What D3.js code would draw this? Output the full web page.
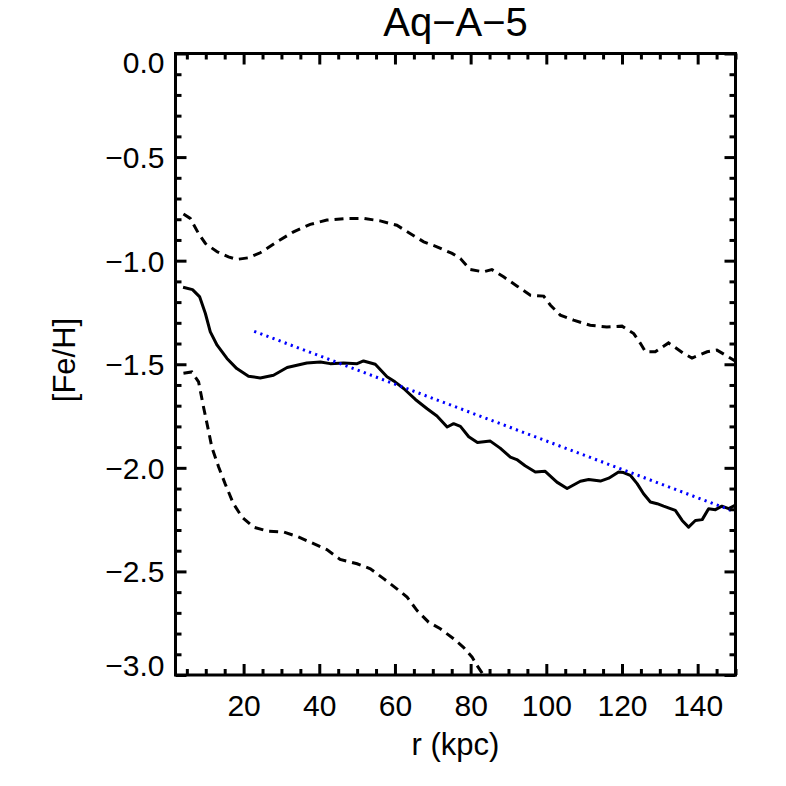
<!DOCTYPE html>
<html>
<head>
<meta charset="utf-8">
<script src="https://cdn.jsdelivr.net/npm/d3@7"></script>
<style>
  body { margin: 0; background: #fff; }
  text { font-family: "Liberation Sans", Arial, Helvetica, sans-serif; fill: #000; }
</style>
</head>
<body>
<svg id="chart" width="786" height="786"></svg>
<script>
// radius (kpc) and [Fe/H]
const medR = [4, 6.5, 8.4, 9.9, 11.2, 13, 15.6, 18.2, 21.3, 24.4, 27.9, 31.5, 34.1, 36.7, 40.3, 42.9, 46.4, 50, 51.7, 54.8, 57.9, 60, 62.3, 65.4, 68.5, 71.1, 73.8, 75.5, 77.3, 79.5, 81.8, 85.2, 87.8, 90.5, 92.2, 94.4, 97.1, 99.7, 102.8, 105.5, 109, 111.2, 114.3, 116.5, 119.1, 120.4, 122.2, 124, 125.7, 127.5, 129.3, 131, 134.1, 135.9, 137.6, 139.4, 141.2, 142.9, 144.7, 146.4, 148.2, 150];
const medFe = [-1.128, -1.14, -1.175, -1.255, -1.344, -1.408, -1.472, -1.521, -1.558, -1.566, -1.553, -1.516, -1.505, -1.494, -1.489, -1.497, -1.494, -1.497, -1.484, -1.5, -1.56, -1.585, -1.617, -1.67, -1.715, -1.75, -1.803, -1.787, -1.8, -1.85, -1.878, -1.871, -1.905, -1.948, -1.96, -1.99, -2.02, -2.017, -2.069, -2.1, -2.065, -2.056, -2.064, -2.05, -2.02, -2.023, -2.036, -2.076, -2.125, -2.165, -2.173, -2.185, -2.205, -2.254, -2.286, -2.254, -2.25, -2.197, -2.202, -2.185, -2.197, -2.18];

const hiR = [4.1, 5.9, 8.1, 9.9, 13, 16, 18.2, 21.3, 24.4, 28.8, 33.2, 37.6, 42, 47.3, 51.7, 56.1, 60.5, 64, 67.6, 71.1, 75.1, 77.3, 79.9, 83.4, 85.6, 88.7, 92.3, 95.8, 99.3, 101.1, 103.7, 107.2, 111.6, 116, 120, 123.1, 124.9, 126.2, 128.8, 132.3, 136.3, 138.5, 142.5, 145.1, 148.2, 150];
const hiFe = [-0.775, -0.796, -0.869, -0.917, -0.957, -0.982, -0.994, -0.986, -0.962, -0.909, -0.861, -0.825, -0.804, -0.796, -0.796, -0.808, -0.829, -0.869, -0.909, -0.933, -0.965, -0.99, -1.043, -1.054, -1.043, -1.078, -1.123, -1.167, -1.171, -1.215, -1.263, -1.287, -1.312, -1.32, -1.316, -1.352, -1.4, -1.44, -1.44, -1.397, -1.448, -1.47, -1.44, -1.432, -1.465, -1.485];

const loR = [4.1, 6.3, 8.1, 9.4, 10.7, 11.6, 13.4, 15.1, 17.3, 19.6, 22.6, 26.2, 30.6, 34.1, 38.5, 42, 45.5, 50, 53.5, 57, 60.5, 63.2, 65.8, 68.9, 72, 75.5, 78.1, 80.4, 81.7, 83, 85];
const loFe = [-1.543, -1.537, -1.585, -1.706, -1.819, -1.9, -1.996, -2.076, -2.173, -2.238, -2.286, -2.305, -2.31, -2.331, -2.366, -2.395, -2.442, -2.463, -2.487, -2.535, -2.584, -2.624, -2.688, -2.745, -2.777, -2.825, -2.866, -2.914, -2.954, -2.99, -3.05];

// linear fit end points
const fitR = [22.8, 150];
const fitFe = [-1.341, -2.213];

const xMajor = [20, 40, 60, 80, 100, 120, 140];
const yMajor = [0, -0.5, -1, -1.5, -2, -2.5, -3];

const title = "Aq\u2212A\u22125";
const xTitle = "r (kpc)";
const yTitle = "[Fe/H]";

const pLeft = 175.5, pRight = 735.5, pTop = 53.5, pBottom = 675;

const svg = d3.select("#chart");

const x = d3.scaleLinear().domain([2, 150]).range([pLeft, pRight]);
const y = d3.scaleLinear().domain([-3, 0]).range([pBottom, pTop]);

const xMinor = d3.range(5, 151, 5).filter(d => d % 20 !== 0);
const yMinor = d3.range(-29, 0, 1).map(d => d / 10).filter(d => Math.round(Math.abs(d * 10)) % 5 !== 0);

svg.append("clipPath").attr("id", "clip")
  .append("rect").attr("x", pLeft).attr("y", pTop)
  .attr("width", pRight - pLeft).attr("height", pBottom - pTop);

const zip = (a, b) => a.map((d, i) => [d, b[i]]);
const line = d3.line().x(d => x(d[0])).y(d => y(d[1]));

const plot = svg.append("g").attr("clip-path", "url(#clip)");

plot.append("path").datum(zip(hiR, hiFe)).attr("d", line)
  .attr("fill", "none").attr("stroke", "#000").attr("stroke-width", 3)
  .attr("stroke-dasharray", "9,6");
plot.append("path").datum(zip(loR, loFe)).attr("d", line)
  .attr("fill", "none").attr("stroke", "#000").attr("stroke-width", 3)
  .attr("stroke-dasharray", "9,6");
plot.append("path").datum(zip(medR, medFe)).attr("d", line)
  .attr("fill", "none").attr("stroke", "#000").attr("stroke-width", 3)
  .attr("stroke-linejoin", "round");
plot.append("path").datum(zip(fitR, fitFe)).attr("d", line)
  .attr("fill", "none").attr("stroke", "#0000ff").attr("stroke-width", 3)
  .attr("stroke-dasharray", "2.2,4.3");

// axes, ticks inside on all four sides
function styleAxis(g) {
  g.select(".domain").remove();
  g.selectAll("line").attr("stroke", "#000").attr("stroke-width", 3);
}

svg.append("g").attr("transform", `translate(0,${pBottom})`)
  .call(d3.axisBottom(x).tickValues(xMajor).tickSize(-11).tickFormat(d3.format("d")))
  .call(styleAxis)
  .call(g => g.selectAll("text").attr("font-size", 30).attr("dy", "0.71em").attr("y", 20));
svg.append("g").attr("transform", `translate(0,${pBottom})`)
  .call(d3.axisBottom(x).tickValues(xMinor).tickSize(-6).tickFormat(""))
  .call(styleAxis);
svg.append("g").attr("transform", `translate(0,${pTop})`)
  .call(d3.axisTop(x).tickValues(xMajor).tickSize(-11).tickFormat(""))
  .call(styleAxis);
svg.append("g").attr("transform", `translate(0,${pTop})`)
  .call(d3.axisTop(x).tickValues(xMinor).tickSize(-6).tickFormat(""))
  .call(styleAxis);

svg.append("g").attr("transform", `translate(${pLeft},0)`)
  .call(d3.axisLeft(y).tickValues(yMajor).tickSize(-11).tickFormat(d3.format(".1f")))
  .call(styleAxis)
  .call(g => g.selectAll("text").attr("font-size", 30).attr("x", -11)
    .attr("dy", d => d === 0 ? "0.64em" : d === -3 ? "0.02em" : "0.35em"));
svg.append("g").attr("transform", `translate(${pLeft},0)`)
  .call(d3.axisLeft(y).tickValues(yMinor).tickSize(-6).tickFormat(""))
  .call(styleAxis);
svg.append("g").attr("transform", `translate(${pRight},0)`)
  .call(d3.axisRight(y).tickValues(yMajor).tickSize(-11).tickFormat(""))
  .call(styleAxis);
svg.append("g").attr("transform", `translate(${pRight},0)`)
  .call(d3.axisRight(y).tickValues(yMinor).tickSize(-6).tickFormat(""))
  .call(styleAxis);

svg.append("rect").attr("x", pLeft).attr("y", pTop)
  .attr("width", pRight - pLeft).attr("height", pBottom - pTop)
  .attr("fill", "none").attr("stroke", "#000").attr("stroke-width", 3);

svg.append("text").attr("x", (pLeft + pRight) / 2).attr("y", 36)
  .attr("text-anchor", "middle").attr("font-size", 40).text(title);
svg.append("text").attr("x", (pLeft + pRight) / 2).attr("y", 755)
  .attr("text-anchor", "middle").attr("font-size", 31).text(xTitle);
svg.append("text").attr("transform", "translate(75,360) rotate(-90)")
  .attr("text-anchor", "middle").attr("font-size", 31).text(yTitle);
</script>
</body>
</html>
